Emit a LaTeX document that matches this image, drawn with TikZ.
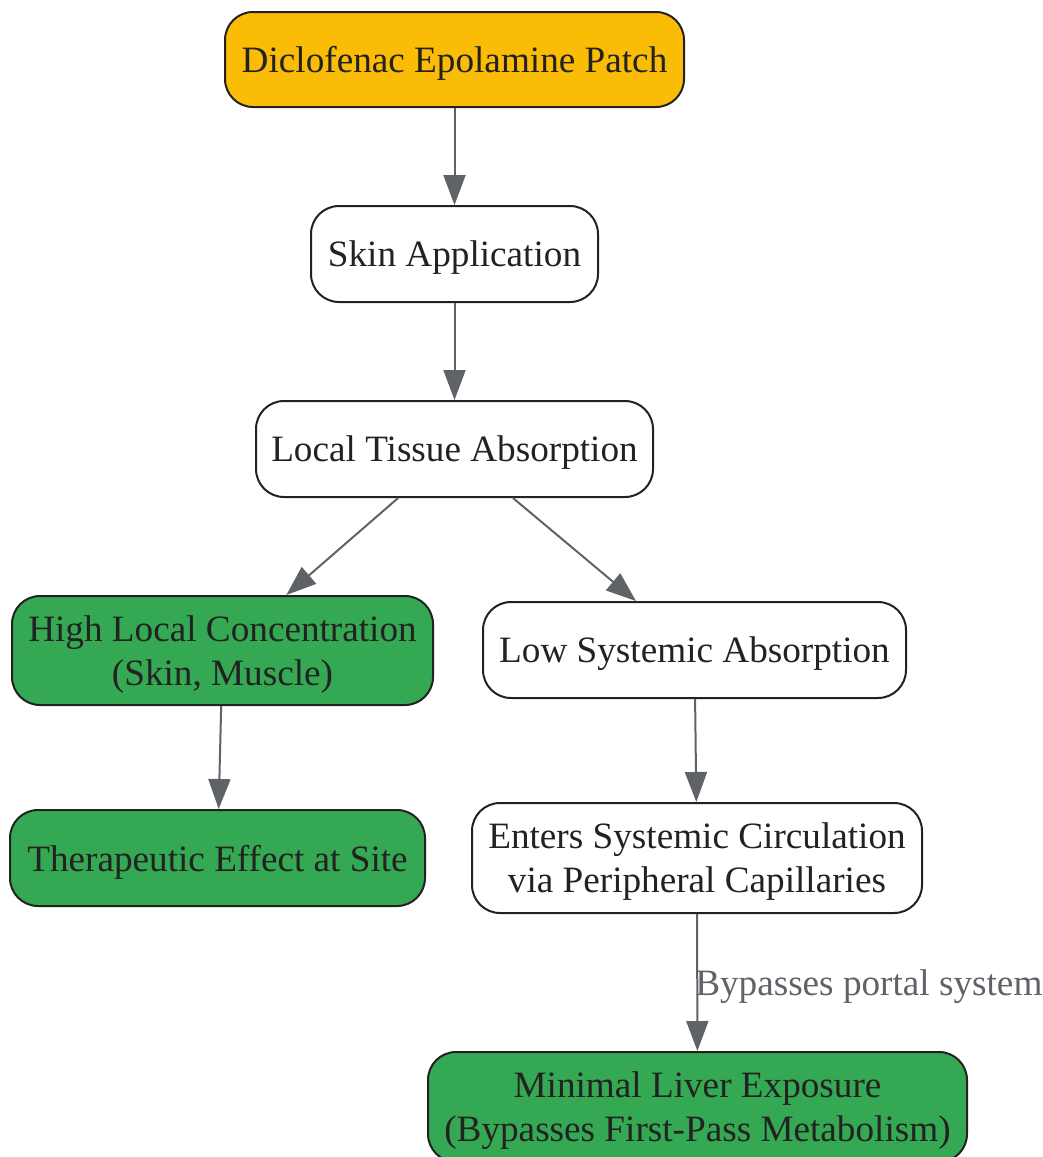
\documentclass[tikz,border=0pt]{standalone}
\usepackage{fontspec}
\setmainfont{Liberation Serif}
\usetikzlibrary{arrows.meta}
\definecolor{patchyellow}{HTML}{FBBC05}
\definecolor{effectgreen}{HTML}{34A853}
\definecolor{edgegray}{HTML}{5F6368}
\definecolor{inkdark}{HTML}{222222}
\newcommand{\nodefont}{\fontsize{18.6pt}{22pt}\selectfont}
\tikzset{
  stepbox/.style={draw=inkdark, line width=1pt, rounded corners=14pt, fill=white,
    text=inkdark, align=center, inner sep=0pt, text depth=0pt, font=\nodefont},
  flow/.style={draw=edgegray, line width=1pt, -{Triangle[length=15pt,width=11pt]}},
}

\begin{document}
\begin{tikzpicture}[x=0.5pt,y=-0.5pt]
\useasboundingbox (0,0) rectangle (1043,1157);
\node[stepbox, fill=patchyellow, minimum width=229.5pt, minimum height=47.5pt] (patch) at (454.5, 59.5) {Diclofenac Epolamine Patch};
\node[stepbox, minimum width=143.5pt, minimum height=48pt] (skin) at (454.5, 254) {Skin Application};
\node[stepbox, minimum width=198.5pt, minimum height=48pt] (tissue) at (454.5, 449) {Local Tissue Absorption};
\node[stepbox, fill=effectgreen, minimum width=210.5pt, minimum height=54.5pt] (local) at (222.5, 650.5) {High Local Concentration\\(Skin, Muscle)};
\node[stepbox, minimum width=211.5pt, minimum height=48pt] (lowsys) at (694.5, 650) {Low Systemic Absorption};
\node[stepbox, fill=effectgreen, minimum width=207.5pt, minimum height=48pt] (effect) at (217.5, 858) {Therapeutic Effect at Site};
\node[stepbox, minimum width=225pt, minimum height=55pt] (circ) at (697, 858) {Enters Systemic Circulation\\via Peripheral Capillaries};
\node[stepbox, fill=effectgreen, minimum width=269.5pt, minimum height=55pt] (liver) at (697.5, 1107) {Minimal Liver Exposure\\(Bypasses First-Pass Metabolism)};
% connectors
\draw[flow] (patch) -- (skin);
\draw[flow] (skin) -- (tissue);
\draw[flow] (tissue) -- (local);
\draw[flow] (tissue) -- (lowsys);
\draw[flow] (local) -- (effect);
\draw[flow] (lowsys) -- (circ);
\draw[flow] (circ) -- node[midway, anchor=west, inner sep=0pt, xshift=-1.5pt, text depth=0pt, text=edgegray, font=\nodefont] (portal) {Bypasses portal system} (liver);
\end{tikzpicture}
\end{document}
